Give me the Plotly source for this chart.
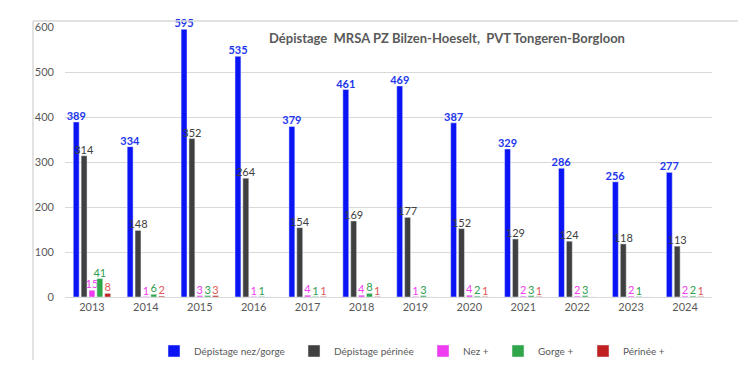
import plotly.graph_objects as go

years = ["2013", "2014", "2015", "2016", "2017", "2018", "2019", "2020", "2021", "2022", "2023", "2024"]
depistage_nez_gorge = [389, 334, 595, 535, 379, 461, 469, 387, 329, 286, 256, 277]
depistage_perinee = [314, 148, 352, 264, 154, 169, 177, 152, 129, 124, 118, 113]
nez_plus = [15, 1, 3, 1, 4, 4, 1, 4, 2, 2, 2, 2]
gorge_plus = [41, 6, 3, 1, 1, 8, 3, 2, 3, 3, 1, 2]
perinee_plus = [8, 2, 3, 0, 1, 1, 0, 1, 1, 0, 0, 1]

series = [
    ("Dépistage nez/gorge", depistage_nez_gorge, "#0a14f5", "#2236ee", True),
    ("Dépistage périnée", depistage_perinee, "#404040", "#404040", False),
    ("Nez +", nez_plus, "#f03cf0", "#f040f0", False),
    ("Gorge +", gorge_plus, "#2fa64a", "#2e9e4f", False),
    ("Périnée +", perinee_plus, "#c0201f", "#e05a5a", False),
]

OFF = 8  # page body margin
W, H = 750 - OFF, 378 - OFF
L, T = 65 - OFF, 27 - OFF
R = W - (712 - OFF)
B = H - (297 - OFF)
pw = W - L - R
ph = H - T - B


def px(xr):
    return (xr - OFF - L) / pw


def py(yr):
    return (H - B - (yr - OFF)) / ph


# legend item square centers (px) in reference
legend_px = [180, 320, 449, 524, 609]

fig = go.Figure()
for i, (name, vals, col, tcol, bold) in enumerate(series):
    lg = "legend" if i == 0 else f"legend{i+1}"
    fig.add_trace(go.Bar(
        x=years, y=vals, name=name, marker_color=col,
        text=[str(v) if v != 0 else "" for v in vals],
        textposition="outside", constraintext="none", cliponaxis=False,
        textfont=dict(color=tcol, size=11, family="Lato", weight="bold" if bold else "normal"),
        legend=lg,
    ))

legend_layout = {}
for i, cx in enumerate(legend_px):
    key = "legend" if i == 0 else f"legend{i+1}"
    legend_layout[key] = dict(
        x=px(cx - 26), y=py(351), xanchor="left", yanchor="middle",
        orientation="h", bgcolor="rgba(0,0,0,0)",
        font=dict(family="Lato", size=10, color="#595959"),
        itemwidth=30,
    )

fig.update_layout(
    width=W, height=H,
    margin=dict(l=L, r=R, t=T, b=B),
    paper_bgcolor="white", plot_bgcolor="white",
    barmode="group", bargap=0.27, bargroupgap=0.25,
    font=dict(family="Lato", color="#595959"),
    showlegend=True,
    xaxis=dict(showgrid=False, showline=True, linecolor="#d9d9d9", linewidth=1,
               tickfont=dict(size=11, color="#595959"), ticks=""),
    yaxis=dict(range=[0, 600], dtick=100, showgrid=True, gridcolor="#d9d9d9", gridwidth=1,
               zeroline=False, tickfont=dict(size=11, color="#595959"), ticks="",
               ticklabelstandoff=10),
    annotations=[dict(
        text="<b>Dépistage  MRSA PZ Bilzen-Hoeselt,  PVT Tongeren-Borgloon</b>",
        xref="paper", yref="paper", x=px(447), y=py(38),
        xanchor="center", yanchor="middle", showarrow=False,
        font=dict(family="Lato", size=13, color="#595959"),
    )],
    shapes=[
        dict(type="line", xref="paper", yref="paper",
             x0=px(33), x1=px(738), y0=py(21), y1=py(21),
             line=dict(color="#d9d9d9", width=1.5)),
        dict(type="line", xref="paper", yref="paper",
             x0=px(33), x1=px(33), y0=py(21), y1=py(360),
             line=dict(color="#d9d9d9", width=1.5)),
    ],
    **legend_layout,
)

fig.write_html("out.html")
